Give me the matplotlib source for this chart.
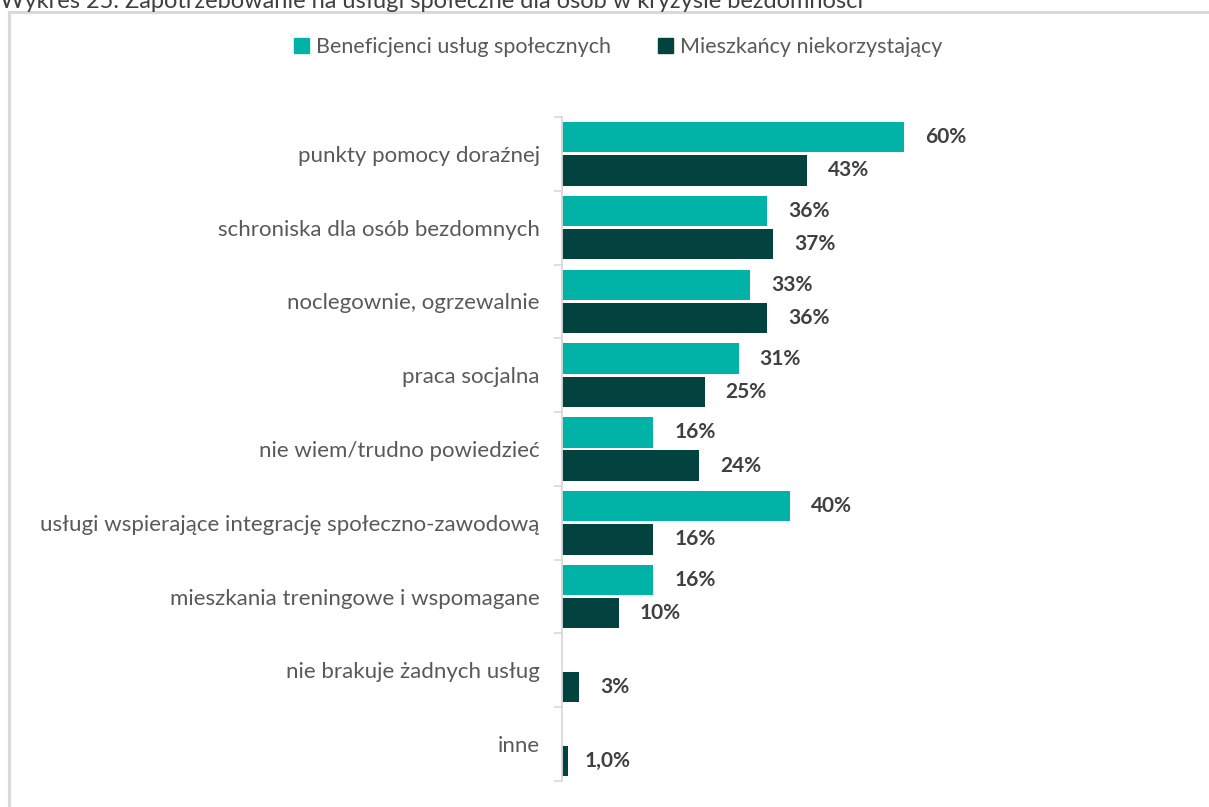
import numpy as np
import matplotlib.pyplot as plt
from matplotlib.patches import Rectangle
from matplotlib.lines import Line2D

plt.rcParams['font.family'] = ['Lato', 'DejaVu Sans']

# dane
kategorie = [
    "punkty pomocy doraźnej",
    "schroniska dla osób bezdomnych",
    "noclegownie, ogrzewalnie",
    "praca socjalna",
    "nie wiem/trudno powiedzieć",
    "usługi wspierające integrację społeczno-zawodową",
    "mieszkania treningowe i wspomagane",
    "nie brakuje żadnych usług",
    "inne",
]
beneficjenci = [60, 36, 33, 31, 16, 40, 16, np.nan, np.nan]
mieszkancy = [43, 37, 36, 25, 24, 16, 10, 3, 1.0]
etykiety_ben = ["60%", "36%", "33%", "31%", "16%", "40%", "16%", "", ""]
etykiety_mie = ["43%", "37%", "36%", "25%", "24%", "16%", "10%", "3%", "1,0%"]

serie = ["Beneficjenci usług społecznych", "Mieszkańcy niekorzystający"]
kolory = ["#00B3A6", "#03433F"]

W, H = 1209, 807
fig = plt.figure(figsize=(W / 100, H / 100), dpi=100)

# ramka
fig.add_artist(Line2D([8.5 / W, 1.0], [1 - 11.5 / H] * 2, transform=fig.transFigure,
                      color="#D9D9D9", lw=2.2))
fig.add_artist(Line2D([8.5 / W] * 2, [0, 1 - 11.5 / H], transform=fig.transFigure,
                      color="#D9D9D9", lw=2.2))

# tytul (obciety u gory)
fig.text(0.0, 1 - 1 / H, "Wykres 25. Zapotrzebowanie na usługi społeczne dla osób w kryzysie bezdomności",
         ha="left", va="center", fontsize=17, color="#404040")

ax = fig.add_axes([562 / W, 26 / H, (1190 - 562) / W, (781 - 117) / H])

y = np.arange(len(kategorie))
h = 0.41
off = 0.225
ax.barh(y - off, beneficjenci, height=h, color=kolory[0])
ax.barh(y + off, mieszkancy, height=h, color=kolory[1])

for i in range(len(kategorie)):
    if not np.isnan(beneficjenci[i]):
        ax.annotate(etykiety_ben[i], (beneficjenci[i], y[i] - off), xytext=(15, 0),
                    textcoords="offset points", va="center", ha="left",
                    fontsize=15, fontweight="bold", color="#404040")
    ax.annotate(etykiety_mie[i], (mieszkancy[i], y[i] + off), xytext=(15 if mieszkancy[i] > 2 else 12, 0),
                textcoords="offset points", va="center", ha="left",
                fontsize=15, fontweight="bold", color="#404040")

ax.set_xlim(0, (1190 - 562) / 5.705)
ax.set_ylim(len(kategorie) - 0.5, -0.5)
ax.set_yticks(y)
ax.set_yticklabels(kategorie, fontsize=16, color="#595959")
ax.set_yticks(np.arange(len(kategorie) + 1) - 0.5, minor=True)
ax.tick_params(axis="y", which="major", length=0, pad=16)
ax.tick_params(axis="y", which="minor", length=6, color="#D9D9D9", width=1.2)
ax.set_xticks([])
for s in ["top", "right", "bottom"]:
    ax.spines[s].set_visible(False)
ax.spines["left"].set_color("#D9D9D9")
ax.spines["left"].set_linewidth(1.3)

# legenda
uchwyty = [Rectangle((0, 0), 1, 1, color=k) for k in kolory]
fig.legend(uchwyty, serie, loc="center", bbox_to_anchor=(618 / W, 1 - 47 / H), ncol=2,
           frameon=False, fontsize=15.5, labelcolor="#595959", handlelength=0.7,
           handleheight=0.7, handletextpad=0.3, columnspacing=2.2)

fig.savefig("out.png", dpi=100)
